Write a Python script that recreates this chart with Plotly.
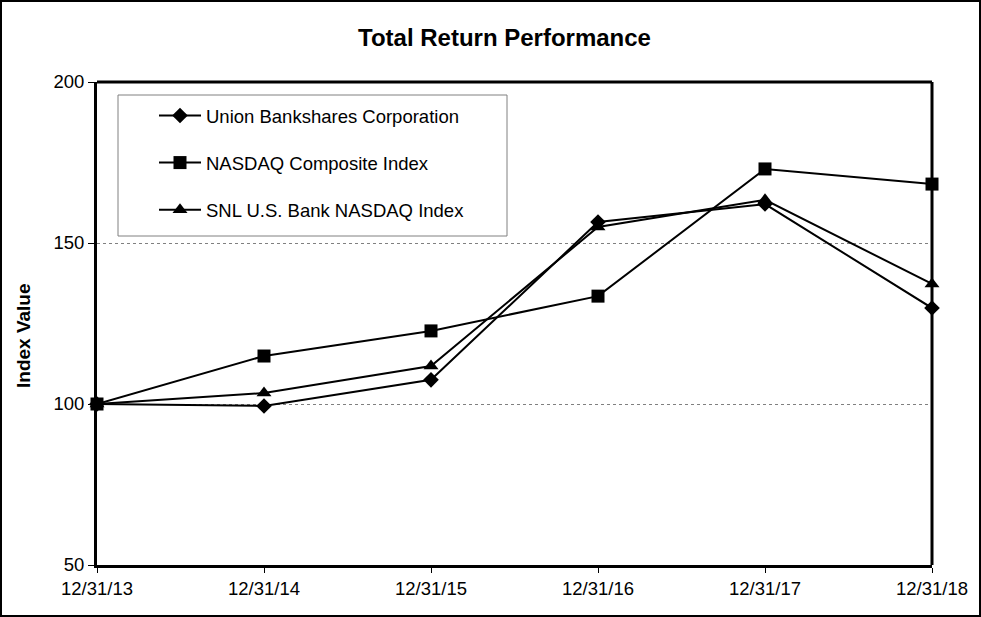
import plotly.graph_objects as go

dates = ["12/31/13", "12/31/14", "12/31/15", "12/31/16", "12/31/17", "12/31/18"]
union = [100.0, 99.4, 107.5, 156.5, 162.1, 129.8]
nasdaq = [100.0, 114.9, 122.7, 133.5, 173.0, 168.3]
snl = [100.0, 103.4, 111.8, 155.0, 163.4, 137.3]

names = ["Union Bankshares Corporation", "NASDAQ Composite Index", "SNL U.S. Bank NASDAQ Index"]
series = [union, nasdaq, snl]
symbols = ["diamond", "square", "triangle-up"]
sizes = [12, 13, 13]

FONT = "Liberation Sans, Arial, sans-serif"
FS = 18.5

fig = go.Figure()
for i, (nm, vals, sym, sz) in enumerate(zip(names, series, symbols, sizes)):
    fig.add_trace(go.Scatter(
        x=list(range(len(dates))), y=vals, name=nm, mode="lines+markers",
        line=dict(color="black", width=2),
        marker=dict(symbol=sym, size=sz, color="black"),
        legendgroup=f"g{i}", cliponaxis=False,
    ))

W, H = 981, 617
L, R, T, B = 97, 49, 82, 52
pw, ph = W - L - R, H - T - B


def px(x):
    return (x - L) / pw


def py(y):
    return (H - B - y) / ph


fig.update_layout(
    width=W, height=H,
    margin=dict(l=L, r=R, t=T, b=B),
    paper_bgcolor="white", plot_bgcolor="white",
    font=dict(family=FONT, size=FS, color="black"),
    showlegend=True,
    legend=dict(
        x=px(154), y=py(97), xanchor="left", yanchor="top",
        borderwidth=0, bgcolor="rgba(0,0,0,0)",
        font=dict(size=FS, family=FONT), tracegroupgap=20,
        traceorder="grouped", itemwidth=42,
    ),
    xaxis=dict(
        tickmode="array", tickvals=list(range(len(dates))), ticktext=dates,
        range=[0, len(dates) - 1], showgrid=False,
        showline=True, linecolor="black", linewidth=3, mirror=False,
        ticks="outside", ticklen=5, tickcolor="black", tickwidth=1,
        tickfont=dict(size=FS), zeroline=False,
    ),
    yaxis=dict(
        range=[50, 200], tickvals=[50, 100, 150, 200],
        showgrid=True, gridcolor="#808080", gridwidth=1, griddash="dot",
        showline=True, linecolor="black", linewidth=3, mirror=False,
        ticks="outside", ticklen=6, tickcolor="black", tickwidth=1,
        tickfont=dict(size=FS), zeroline=False,
    ),
    annotations=[
        dict(text="<b>Total Return Performance</b>", xref="paper", yref="paper",
             x=px(504), y=py(38), xanchor="center", yanchor="middle",
             showarrow=False, font=dict(size=24, family=FONT)),
        dict(text="<b>Index Value</b>", xref="paper", yref="paper",
             x=px(23), y=py(336), xanchor="center", yanchor="middle", textangle=-90,
             showarrow=False, font=dict(size=19, family=FONT)),
    ],
    shapes=[
        dict(type="rect", xref="paper", yref="paper",
             x0=px(118), x1=px(507), y0=py(236), y1=py(95),
             line=dict(color="#808080", width=1), fillcolor="white", layer="below"),
        dict(type="line", xref="paper", yref="paper", x0=1, x1=1, y0=0, y1=1,
             line=dict(color="black", width=3)),
        dict(type="line", xref="paper", yref="paper", x0=0, x1=1, y0=1, y1=1,
             line=dict(color="black", width=3)),
        dict(type="rect", xref="paper", yref="paper",
             x0=px(1), x1=px(W - 1), y0=py(H - 1), y1=py(1),
             line=dict(color="black", width=2), layer="below"),
    ],
)

fig.write_html(
    "out.html",
    config={"displayModeBar": False},
    post_script="document.body.style.margin='0';document.body.style.overflow='hidden';",
)
